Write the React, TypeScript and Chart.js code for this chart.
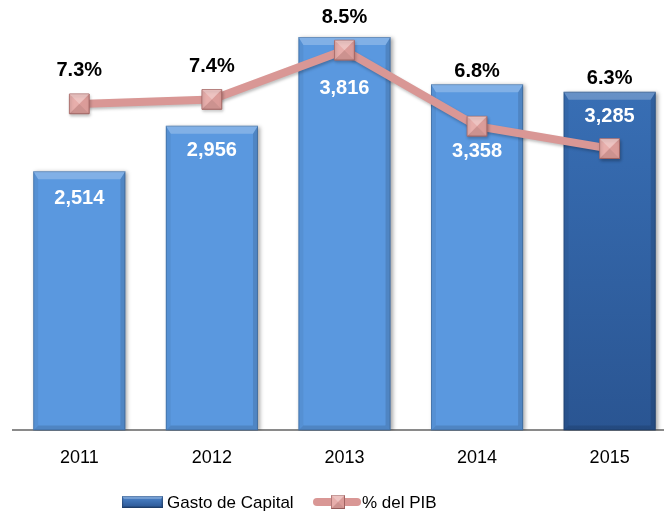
import React, { useEffect, useRef } from "react";
import { Chart, registerables } from "chart.js";

Chart.register(...registerables);

// ---- data ----
const categories = ["2011", "2012", "2013", "2014", "2015"];
const gastoCapital = [2514, 2956, 3816, 3358, 3285];
const pctPIB = [7.3, 7.4, 8.5, 6.8, 6.3];
const seriesNames = ["Gasto de Capital", "% del PIB"];

// ---- style ----
const FONT = "'Liberation Sans', Arial, sans-serif";
const BAR = "#5A98DF";
const BAR_DARK_TOP = "#3B74BC";
const BAR_DARK_BOTTOM = "#2A5592";
const LINE = "#D99795";
const MARK = "#E4A3A0";
const MARK_BORDER = "#A86866";
const barLabelOffsets = [27, 25, 52, 67, 25]; // px below bar top
// visible x range (category index units); the last slot runs past the right edge as in the original
const X_MIN = -0.5;
const X_MAX = 4.41;

function poly(ctx: CanvasRenderingContext2D, pts: number[][], color: string) {
  ctx.beginPath();
  ctx.moveTo(pts[0][0], pts[0][1]);
  for (let i = 1; i < pts.length; i++) ctx.lineTo(pts[i][0], pts[i][1]);
  ctx.closePath();
  ctx.fillStyle = color;
  ctx.fill();
}

function bevelRect(ctx: CanvasRenderingContext2D, l: number, t: number, r: number, b: number, st: number, ss: number) {
  poly(ctx, [[l, t], [r, t], [r - ss, t + st], [l + ss, t + st]], "rgba(255,255,255,0.24)");
  poly(ctx, [[l, t], [l + ss, t + st], [l + ss, b - ss], [l, b]], "rgba(0,0,0,0.05)");
  poly(ctx, [[r, t], [r, b], [r - ss, b - ss], [r - ss, t + st]], "rgba(0,0,0,0.12)");
  poly(ctx, [[l, b], [l + ss, b - ss], [r - ss, b - ss], [r, b]], "rgba(0,0,0,0.12)");
  ctx.strokeStyle = "rgba(0,0,0,0.18)";
  ctx.lineWidth = 1;
  ctx.strokeRect(l + 0.5, t + 0.5, r - l - 1, b - t - 1);
}

function pyramid(ctx: CanvasRenderingContext2D, cx: number, cy: number, h: number) {
  const l = cx - h, r = cx + h, t = cy - h, b = cy + h;
  poly(ctx, [[l, t], [r, t], [cx, cy]], "rgba(255,255,255,0.35)");
  poly(ctx, [[l, t], [cx, cy], [l, b]], "rgba(255,255,255,0.12)");
  poly(ctx, [[r, t], [r, b], [cx, cy]], "rgba(0,0,0,0.04)");
  poly(ctx, [[l, b], [cx, cy], [r, b]], "rgba(0,0,0,0.1)");
}

const decor = {
  id: "decor",
  beforeDatasetDraw(chart: any, args: any) {
    const ctx = chart.ctx;
    ctx.save();
    if (args.index === 0) {
      ctx.shadowColor = "rgba(0,0,0,0.35)";
      ctx.shadowBlur = 4;
      ctx.shadowOffsetX = 2;
      ctx.shadowOffsetY = 1;
    } else {
      ctx.shadowColor = "rgba(0,0,0,0.25)";
      ctx.shadowBlur = 3;
      ctx.shadowOffsetX = 1;
      ctx.shadowOffsetY = 2;
    }
  },
  afterDatasetDraw(chart: any, args: any) {
    const ctx = chart.ctx;
    ctx.restore();
    if (args.index === 0) {
      args.meta.data.forEach((bar: any) => {
        const p = bar.getProps(["x", "y", "base", "width"], true);
        bevelRect(ctx, p.x - p.width / 2, p.y, p.x + p.width / 2, p.base, 8, 5);
      });
    } else if (args.index === 1) {
      args.meta.data.forEach((pt: any) => {
        const h = Math.SQRT1_2 * pt.options.radius;
        pyramid(ctx, pt.x, pt.y, h);
      });
    }
  },
  afterDraw(chart: any) {
    const ctx = chart.ctx;
    const bars = chart.getDatasetMeta(0).data;
    const pts = chart.getDatasetMeta(1).data;
    ctx.save();
    ctx.textAlign = "center";
    ctx.textBaseline = "middle";
    ctx.font = `bold 20px ${FONT}`;
    for (let i = 0; i < categories.length; i++) {
      const bar = bars[i];
      const pt = pts[i];
      ctx.fillStyle = "#000";
      const ly = Math.min(pt.y - 33, bar.y - 13);
      ctx.fillText(pctPIB[i].toFixed(1) + "%", pt.x, ly);
      ctx.fillStyle = "#fff";
      ctx.fillText(gastoCapital[i].toLocaleString("en-US"), bar.x, bar.y + barLabelOffsets[i]);
    }
    // legend
    const cy = 502;
    const g = ctx.createLinearGradient(0, cy - 6, 0, cy + 6);
    g.addColorStop(0, "#4F88CF");
    g.addColorStop(1, "#2A5592");
    ctx.fillStyle = g;
    ctx.fillRect(122, cy - 6, 41, 12);
    bevelRect(ctx, 122, cy - 6, 163, cy + 6, 3, 2);
    ctx.fillStyle = "#000";
    ctx.textAlign = "left";
    ctx.font = `17px ${FONT}`;
    ctx.fillText(seriesNames[0], 167, cy + 1);
    ctx.strokeStyle = LINE;
    ctx.lineWidth = 8;
    ctx.lineCap = "round";
    ctx.beginPath();
    ctx.moveTo(317, cy);
    ctx.lineTo(357, cy);
    ctx.stroke();
    ctx.fillStyle = MARK;
    ctx.fillRect(331, cy - 7, 14, 14);
    ctx.strokeStyle = MARK_BORDER;
    ctx.lineWidth = 1;
    ctx.strokeRect(331.5, cy - 6.5, 13, 13);
    pyramid(ctx, 338, cy, 7);
    ctx.fillStyle = "#000";
    ctx.fillText(seriesNames[1], 362, cy + 1);
    ctx.restore();
  },
};

export default function App() {
  const ref = useRef<HTMLCanvasElement | null>(null);
  useEffect(() => {
    const canvas = ref.current;
    if (!canvas) return;
    const barData = gastoCapital.map((v, i) => ({ x: i, y: v }));
    const lineData = pctPIB.map((v, i) => ({ x: i, y: v }));
    const chart = new Chart(canvas, {
      type: "bar",
      data: {
        datasets: [
          {
            type: "bar",
            label: seriesNames[0],
            data: barData,
            backgroundColor: (c: any) => {
              if (c.dataIndex !== 4) return BAR;
              const area = c.chart.chartArea;
              if (!area) return BAR_DARK_TOP;
              const g = c.chart.ctx.createLinearGradient(0, area.top, 0, area.bottom);
              g.addColorStop(0, BAR_DARK_TOP);
              g.addColorStop(1, BAR_DARK_BOTTOM);
              return g;
            },
            borderWidth: 0,
            yAxisID: "y",
            order: 1,
            categoryPercentage: 1,
            barPercentage: 0.695,
          } as any,
          {
            type: "line",
            label: seriesNames[1],
            data: lineData,
            borderColor: LINE,
            borderWidth: 8,
            tension: 0,
            pointStyle: "rect",
            pointRadius: 14,
            pointBackgroundColor: MARK,
            pointBorderColor: MARK_BORDER,
            pointBorderWidth: 1,
            yAxisID: "y2",
            order: 0,
            clip: false,
          } as any,
        ],
      },
      options: {
        responsive: false,
        animation: false,
        layout: { autoPadding: false, padding: { left: 13, right: 0, top: 18, bottom: 31 } },
        plugins: { legend: { display: false }, tooltip: { enabled: false } },
        scales: {
          x: {
            type: "linear",
            min: X_MIN,
            max: X_MAX,
            offset: false,
            afterBuildTicks: (scale: any) => {
              scale.ticks = categories.map((_, i) => ({ value: i }));
            },
            afterFit: (scale: any) => {
              scale.paddingLeft = 0;
              scale.paddingRight = 0;
            },
            grid: { display: false, drawTicks: false },
            border: { display: true, color: "#8a8a8a", width: 2 },
            ticks: {
              color: "#000",
              font: { family: FONT, size: 18 },
              padding: 17,
              autoSkip: false,
              maxRotation: 0,
              callback: (v: number) => categories[v] ?? "",
            },
          },
          y: { display: false, min: 0, max: 4000 },
          y2: { display: false, min: 0, max: 9.22, position: "right" },
        },
      } as any,
      plugins: [decor],
    });
    return () => chart.destroy();
  }, []);
  return (
    <div style={{ position: "absolute", left: 0, top: 0, width: 664, height: 517, overflow: "hidden", background: "#fff" }}>
      <canvas ref={ref} width={664} height={517} style={{ width: 664, height: 517, display: "block" }} />
    </div>
  );
}
